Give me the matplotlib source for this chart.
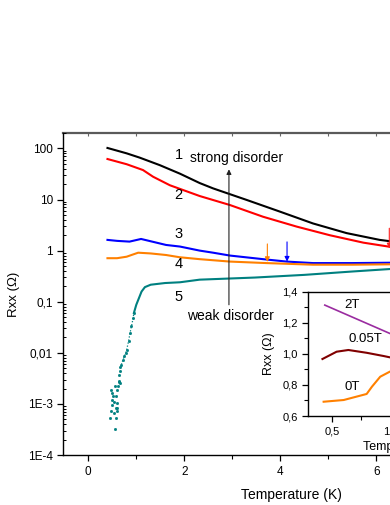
import matplotlib
matplotlib.use("Agg")
import matplotlib.pyplot as plt
from matplotlib.ticker import LogLocator, NullFormatter, MultipleLocator

plt.rcParams["font.family"] = ["Liberation Sans", "DejaVu Sans"]

# main panel: Rxx vs T, five samples
T1 = [0.40, 0.80, 1.07, 1.49, 1.91, 2.32, 2.60, 3.30, 3.99, 4.68, 5.38, 6.07, 6.35]
R1 = [102, 80, 66, 47, 32, 21, 16.5, 9.8, 5.8, 3.4, 2.2, 1.62, 1.5]

T2 = [0.40, 0.80, 1.14, 1.35, 1.70, 2.32, 2.95, 3.64, 4.34, 5.03, 5.73, 6.25, 6.35]
R2 = [62, 49, 37.7, 27.9, 19, 11.7, 7.8, 4.6, 2.95, 2.0, 1.43, 1.2, 1.15]

T3 = [0.40, 0.60, 0.86, 1.10, 1.62, 1.91, 2.32, 2.60, 2.95, 3.64, 4.13, 4.68, 5.50, 6.35]
R3 = [1.62, 1.55, 1.50, 1.69, 1.29, 1.20, 1.00, 0.91, 0.80, 0.68, 0.61, 0.57, 0.57, 0.58]

T4 = [0.40, 0.60, 0.80, 0.90, 1.04, 1.30, 1.62, 1.91, 2.32, 2.95, 3.71, 4.68, 5.50, 6.35]
R4 = [0.71, 0.71, 0.76, 0.82, 0.91, 0.88, 0.82, 0.74, 0.68, 0.61, 0.57, 0.53, 0.53, 0.54]

T5 = [0.95, 1.00, 1.11, 1.18, 1.30, 1.60, 1.91, 2.32, 3.47, 4.50, 5.50, 6.35]
R5 = [0.060, 0.087, 0.158, 0.193, 0.215, 0.232, 0.24, 0.27, 0.297, 0.335, 0.39, 0.44]

# sample 5 below the transition: dense part and scattered points
T5_dense = [0.69, 0.72, 0.75, 0.78, 0.80, 0.84, 0.87, 0.90, 0.935, 0.95]
R5_dense = [0.0059, 0.0072, 0.0085, 0.0100, 0.0115, 0.017, 0.0245, 0.033, 0.048, 0.060]
T5_scat = [0.64, 0.66, 0.62, 0.55, 0.47, 0.485, 0.575, 0.52, 0.50, 0.59, 0.50, 0.57,
           0.60, 0.47, 0.54, 0.59, 0.46, 0.57, 0.55, 0.65, 0.64, 0.66, 0.67, 0.60, 0.53]
R5_scat = [0.0037, 0.0026, 0.0022, 0.0022, 0.0019, 0.0016, 0.0014, 0.0014, 0.0012,
           0.00105, 0.00097, 0.00083, 0.00083, 0.00072, 0.00066, 0.00072, 0.00053,
           0.00053, 0.00032, 0.0027, 0.0028, 0.0045, 0.0052, 0.0019, 0.0011]

# arrows marking the minima (T, tail, head)
ARROWS = [(3.73, 1.35, 0.60, "#ff8000"), (4.14, 1.48, 0.61, "#0000ff"), (6.27, 2.74, 1.11, "#ff2020")]

Y_TICKS = [1e-4, 1e-3, 1e-2, 1e-1, 1, 10, 100]
Y_LABELS = ["1E-4", "1E-3", "0,01", "0,1", "1", "10", "100"]
X_TICKS = [0, 2, 4, 6, 8]

# inset: sample 4 at different fields
TI_2T = [0.44, 0.99, 1.10]
RI_2T = [1.314, 1.132, 1.095]
TI_005 = [0.42, 0.54, 0.64, 0.795, 0.94, 0.99, 1.10]
RI_005 = [0.967, 1.014, 1.025, 1.007, 0.986, 0.978, 0.965]
TI_0T = [0.43, 0.60, 0.795, 0.84, 0.91, 0.99, 1.10]
RI_0T = [0.692, 0.703, 0.742, 0.789, 0.853, 0.885, 0.92]
INSET_Y_TICKS = [0.6, 0.8, 1.0, 1.2, 1.4]
INSET_Y_LABELS = ["0,6", "0,8", "1,0", "1,2", "1,4"]
INSET_X_TICKS = [0.5, 1.0, 1.5]
INSET_X_LABELS = ["0,5", "1,0", "1,5"]


def draw_main(fig):
    ax = fig.add_axes([0.1623, 0.099, 1.172, 0.6376])
    ax.set_yscale("log")
    ax.set_xlim(-0.52, 9.0)
    ax.set_ylim(1e-4, 200)

    ax.plot(T1, R1, color="black", lw=1.5)
    ax.plot(T2, R2, color="#ff0000", lw=1.5)
    ax.plot(T3, R3, color="#0000ff", lw=1.5)
    ax.plot(T4, R4, color="#ff8000", lw=1.5)
    ax.plot(T5, R5, color="#008080", lw=1.5)
    ax.plot(T5_dense, R5_dense, color="#008080", lw=0.9, ls=(0, (1, 1.5)),
            marker="s", ms=1.0)
    ax.plot(T5_scat, R5_scat, color="#008080", lw=0, marker="s", ms=1.0)

    for t, tail, head, c in ARROWS:
        ax.annotate("", xy=(t, head), xytext=(t, tail),
                    arrowprops=dict(arrowstyle="-|>", color=c, lw=0.8,
                                    mutation_scale=7, shrinkA=0, shrinkB=0))

    # disorder arrow
    ax.annotate("", xy=(2.93, 39), xytext=(2.93, 0.087),
                arrowprops=dict(arrowstyle="-|>", color="#222222", lw=0.8,
                                mutation_scale=7, shrinkA=0, shrinkB=0))
    ax.text(2.11, 65, "strong disorder", fontsize=10, va="center")
    ax.text(2.05, 0.053, "weak disorder", fontsize=10, va="center")

    for lab, y in zip(["1", "2", "3", "4", "5"], [74, 12.2, 2.12, 0.55, 0.125]):
        ax.text(1.885, y, lab, fontsize=10.5, ha="center", va="center")

    ax.set_yticks(Y_TICKS, Y_LABELS)
    ax.yaxis.set_minor_locator(LogLocator(base=10, subs=range(2, 10), numticks=20))
    ax.yaxis.set_minor_formatter(NullFormatter())
    ax.set_xticks(X_TICKS, [str(x) for x in X_TICKS])
    ax.xaxis.set_minor_locator(MultipleLocator(1))

    ax.tick_params(axis="y", which="major", direction="out", length=4, width=0.9, labelsize=8.5)
    ax.tick_params(axis="y", which="minor", direction="in", length=2, width=0.7)
    ax.tick_params(axis="x", which="major", direction="out", length=4, width=0.9, labelsize=8.5, pad=4)
    ax.tick_params(axis="x", which="minor", direction="out", length=3, width=0.8)

    for s in ["left", "bottom"]:
        ax.spines[s].set_linewidth(1.0)
    ax.spines["top"].set_visible(False)
    top = ax.secondary_xaxis("top")
    top.xaxis.set_major_locator(MultipleLocator(1))
    top.tick_params(direction="in", length=2, color="#666666", labeltop=False)
    top.spines["top"].set_color("#5a5a5a")
    top.spines["top"].set_linewidth(1.6)

    ax.set_ylabel("Rxx (\u03a9)", fontsize=9.5, labelpad=6)
    ax.set_xlabel("Temperature (K)", fontsize=10, labelpad=7)
    return ax


def draw_inset(fig):
    ins = fig.add_axes([0.7905, 0.1762, 0.514, 0.2461])
    ins.set_xlim(0.3, 2.0)
    ins.set_ylim(0.6, 1.4)
    ins.plot(TI_2T, RI_2T, color="#9a2ca0", lw=1.2)
    ins.plot(TI_005, RI_005, color="#800000", lw=1.5)
    ins.plot(TI_0T, RI_0T, color="#ff8000", lw=1.5)
    ins.text(0.668, 1.314, "2T", fontsize=9.5, ha="center", va="center")
    ins.text(0.78, 1.093, "0.05T", fontsize=9.5, ha="center", va="center")
    ins.text(0.676, 0.787, "0T", fontsize=9.5, ha="center", va="center")

    ins.set_yticks(INSET_Y_TICKS, INSET_Y_LABELS)
    ins.yaxis.set_minor_locator(MultipleLocator(0.1))
    ins.set_xticks(INSET_X_TICKS, INSET_X_LABELS)
    ins.xaxis.set_minor_locator(MultipleLocator(0.25))
    ins.tick_params(which="major", direction="out", length=4, width=0.9, labelsize=8)
    ins.tick_params(which="minor", direction="out", length=3, width=0.8)
    for s in ins.spines.values():
        s.set_linewidth(1.0)
    ins.set_ylabel("Rxx (\u03a9)", fontsize=9, labelpad=5)
    ins.set_xlabel("Temperature (K)", fontsize=9, labelpad=3)
    return ins


def main() -> None:
    fig = plt.figure(figsize=(3.9, 5.05), dpi=100)
    draw_main(fig)
    draw_inset(fig)
    fig.savefig("out.png", dpi=100)
    plt.close(fig)


if __name__ == "__main__":
    main()
